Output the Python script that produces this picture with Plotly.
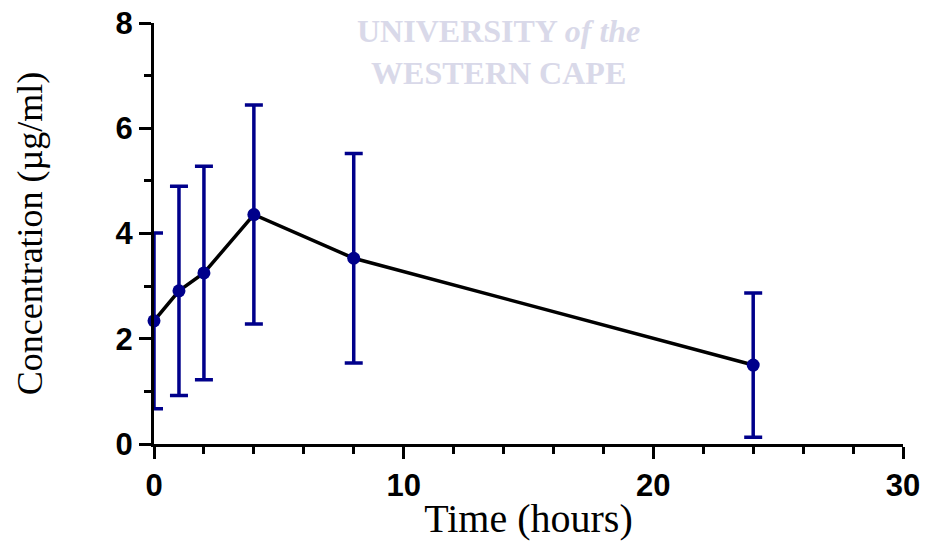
import plotly.graph_objects as go

time_h = [0, 1, 2, 4, 8, 24]
conc = [2.34, 2.91, 3.25, 4.36, 3.53, 1.50]
sd = [1.67, 1.99, 2.03, 2.08, 1.99, 1.37]

x_ticks = [0, 10, 20, 30]
y_ticks = [0, 2, 4, 6, 8]

navy = "#00008B"

fig = go.Figure()
fig.add_trace(go.Scatter(x=time_h, y=conc, mode="lines",
                         line=dict(color="black", width=3.5),
                         showlegend=False, hoverinfo="skip", cliponaxis=False))
fig.add_trace(go.Scatter(x=time_h, y=conc, mode="markers",
                         marker=dict(color=navy, size=13),
                         error_y=dict(type="data", array=sd, visible=True,
                                      color=navy, thickness=3.5, width=9),
                         showlegend=False, cliponaxis=False))

axis_common = dict(showline=True, linecolor="black", linewidth=3,
                   ticks="outside", tickcolor="black", tickwidth=3, ticklen=12,
                   showgrid=False, zeroline=False, ticklabeloverflow="allow", automargin=False,
                   tickfont=dict(family="Liberation Sans, Arial", size=31, color="black", weight="bold"))

fig.update_xaxes(range=[0, 30], tickvals=x_ticks, ticktext=[str(v) for v in x_ticks],
                 minor=dict(ticks="outside", dtick=2, tick0=0, ticklen=7, tickwidth=3, tickcolor="black", showgrid=False),
                 title=dict(text="Time (hours)", font=dict(family="Liberation Serif, Times New Roman", size=40, color="black"), standoff=2),
                 **axis_common)
fig.update_yaxes(range=[0, 8], tickvals=y_ticks, ticktext=[str(v) for v in y_ticks],
                 minor=dict(ticks="outside", dtick=1, tick0=0, ticklen=7, tickwidth=3, tickcolor="black", showgrid=False),
                 title=dict(text="Concentration (µg/ml)", font=dict(family="Liberation Serif, Times New Roman", size=36, color="black"), standoff=62),
                 **axis_common)

fig.add_annotation(xref="paper", yref="paper", x=0.46, y=1.028, xanchor="center", yanchor="top",
                   text="UNIVERSITY <i>of the</i><br>WESTERN CAPE", showarrow=False, align="center",
                   font=dict(family="Liberation Serif, Times New Roman", size=32, color="#d9d9e9", weight="bold"))

fig.update_layout(width=928, height=542, plot_bgcolor="white", paper_bgcolor="white",
                  margin=dict(l=154, r=25, t=23, b=98))

fig.write_html("out.html", config={"displayModeBar": False},
               post_script="document.body.style.margin='0';")
